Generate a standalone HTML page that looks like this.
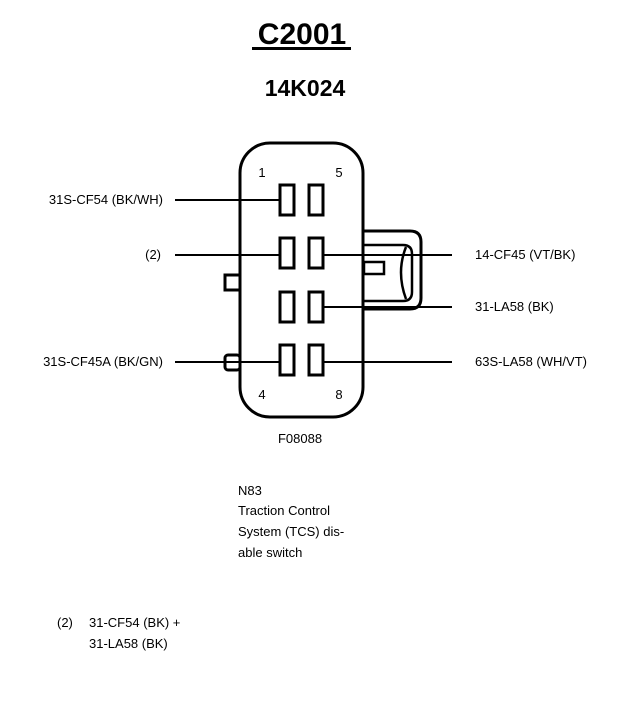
<!DOCTYPE html>
<html><head><style>
body{margin:0;background:#fff;width:640px;height:718px;overflow:hidden;font-family:"Liberation Sans",Arial,sans-serif;}
</style></head><body>
<svg width="640" height="718" viewBox="0 0 640 718" xmlns="http://www.w3.org/2000/svg" font-family="Liberation Sans, Arial, sans-serif">
<text x="302" y="44" font-size="30" font-weight="bold" text-anchor="middle">C2001</text>
<rect x="252" y="47" width="99" height="3" fill="#000"/>
<text x="305" y="96" font-size="23" font-weight="bold" text-anchor="middle">14K024</text>
<g fill="none" stroke="#000">
<rect x="240" y="143" width="123" height="274" rx="30" stroke-width="3"/>
<path d="M363 231 H410 Q421 231 421 242 V298 Q421 309 410 309 H363" stroke-width="3"/>
<path d="M363 245 H403 Q412 245 412 254 V292 Q412 301 403 301 H363" stroke-width="2.5"/>
<path d="M406 247 Q396 272 406 299" stroke-width="2.5"/>
<rect x="364" y="262" width="20" height="12" stroke-width="2.5"/>
<rect x="225" y="275" width="15" height="15" stroke-width="3"/>
<rect x="225" y="355" width="15" height="15" rx="3" stroke-width="3"/>
<g stroke-width="3">
<rect x="280" y="185" width="14" height="30"/><rect x="309" y="185" width="14" height="30"/>
<rect x="280" y="238" width="14" height="30"/><rect x="309" y="238" width="14" height="30"/>
<rect x="280" y="292" width="14" height="30"/><rect x="309" y="292" width="14" height="30"/>
<rect x="280" y="345" width="14" height="30"/><rect x="309" y="345" width="14" height="30"/>
</g>
<g stroke-width="2">
<line x1="175" y1="200" x2="279" y2="200"/>
<line x1="175" y1="255" x2="279" y2="255"/>
<line x1="175" y1="362" x2="279" y2="362"/>
<line x1="324" y1="255" x2="452" y2="255"/>
<line x1="324" y1="307" x2="452" y2="307"/>
<line x1="324" y1="362" x2="452" y2="362"/>
</g>
</g>
<g font-size="13">
<text x="262" y="177" text-anchor="middle">1</text>
<text x="339" y="177" text-anchor="middle">5</text>
<text x="262" y="399" text-anchor="middle">4</text>
<text x="339" y="399" text-anchor="middle">8</text>
<text x="300" y="443" text-anchor="middle">F08088</text>
<text x="163" y="204" text-anchor="end">31S-CF54 (BK/WH)</text>
<text x="161" y="259" text-anchor="end">(2)</text>
<text x="163" y="366" text-anchor="end">31S-CF45A (BK/GN)</text>
<text x="475" y="259">14-CF45 (VT/BK)</text>
<text x="475" y="311">31-LA58 (BK)</text>
<text x="475" y="366">63S-LA58 (WH/VT)</text>
<text x="238" y="495">N83</text>
<text x="238" y="515">Traction Control</text>
<text x="238" y="536">System (TCS) dis-</text>
<text x="238" y="557">able switch</text>
<text x="57" y="627">(2)</text>
<text x="89" y="627">31-CF54 (BK) +</text>
<text x="89" y="648">31-LA58 (BK)</text>
</g>
</svg>
</body></html>
